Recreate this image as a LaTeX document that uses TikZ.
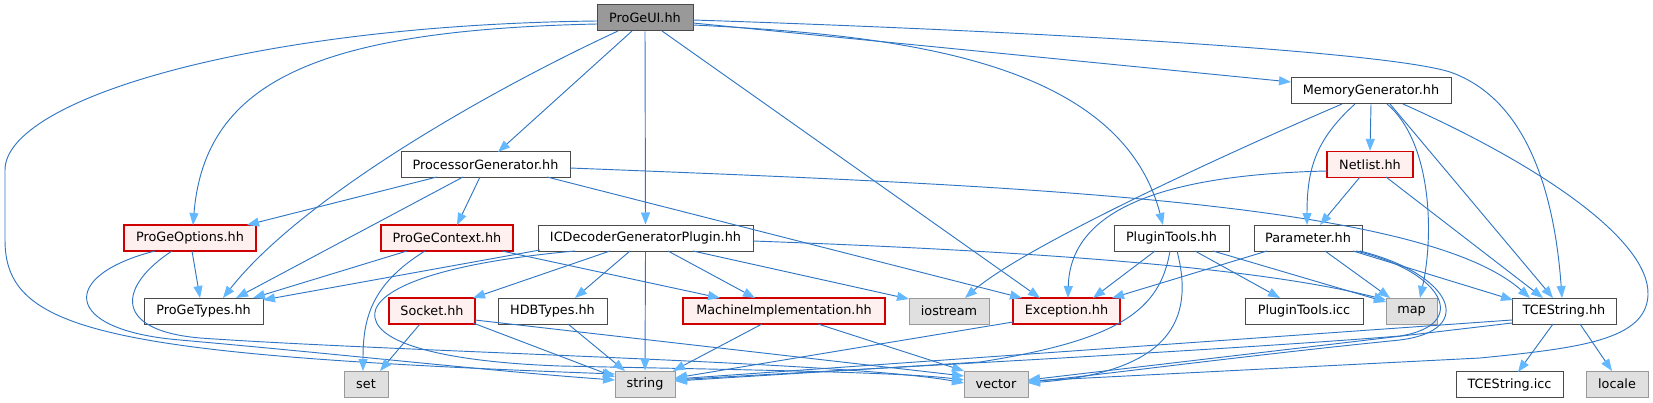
\documentclass[tikz,border=0pt]{standalone}
\usepackage{fontspec}
\setmainfont{DejaVu Sans}
\usetikzlibrary{arrows.meta,calc}
\definecolor{edgec}{RGB}{48,118,196}
\definecolor{tipc}{HTML}{63B8FF}
\definecolor{redfill}{HTML}{FFF0F0}
\definecolor{redb}{HTML}{D00000}
\definecolor{grayfill}{HTML}{E0E0E0}
\definecolor{sysb}{HTML}{999999}
\definecolor{nodeb}{HTML}{4A4A4A}
\definecolor{uifill}{HTML}{999999}
\definecolor{uib}{HTML}{4A4A4A}
\begin{document}
\begin{tikzpicture}[x=0.75pt,y=-0.75pt,
  box/.style={draw=nodeb, fill=white, line width=0.75pt, minimum height=26*0.75pt, inner sep=0pt, font=\fontsize{9.6}{11}\selectfont},
  w/.style={minimum width=#1*0.75pt},
  trunc/.style={box, draw=redb, fill=redfill, line width=1pt},
  sys/.style={box, draw=sysb, fill=grayfill},
  e/.style={draw=edgec, line width=0.7pt, -{Triangle[length=9pt,width=6.75pt,color=tipc]}}]
\useasboundingbox (0,0) rectangle (1653,403);
% nodes
\node[box,w=96,fill=uifill,draw=uib] (ui) at (645,18) {ProGeUI.hh};
\node[box,w=169] (pg) at (485.5,164.5) {ProcessorGenerator.hh};
\node[box,w=160] (mg) at (1371,91) {MemoryGenerator.hh};
\node[trunc,w=86] (nl) at (1370,164.5) {Netlist.hh};
\node[trunc,w=132] (po) at (190,238) {ProGeOptions.hh};
\node[trunc,w=132] (pc) at (447,238) {ProGeContext.hh};
\node[box,w=215] (icd) at (645.5,238) {ICDecoderGeneratorPlugin.hh};
\node[box,w=115] (pth) at (1171.5,238) {PluginTools.hh};
\node[box,w=108] (par) at (1308,238) {Parameter.hh};
\node[box,w=119] (pt) at (203.5,311) {ProGeTypes.hh};
\node[trunc,w=86] (sock) at (432,311) {Socket.hh};
\node[box,w=109] (hdb) at (552.5,311) {HDBTypes.hh};
\node[trunc,w=202] (mi) at (784,311) {MachineImplementation.hh};
\node[sys,w=80] (ios) at (949,311) {iostream};
\node[trunc,w=107] (exc) at (1066.5,311) {Exception.hh};
\node[box,w=118] (pticc) at (1304,311) {PluginTools.icc};
\node[sys,w=51] (map) at (1411.5,311) {map};
\node[box,w=104] (tce) at (1564,311) {TCEString.hh};
\node[sys,w=44] (set) at (366,384.5) {set};
\node[sys,w=60] (str) at (645,384) {string};
\node[sys,w=64] (vec) at (996,384) {vector};
\node[box,w=107] (tceicc) at (1509.5,384.5) {TCEString.icc};
\node[sys,w=62] (loc) at (1617,384) {locale};
% ProGeUI
\draw[e] ($(ui)+(-13,13)$) -- ($(pg)+(12.5,-12.5)$);
\draw[e] ($(ui)+(-48,6)$) .. controls (320,30) and (205,80) .. ($(po)+(3,-13)$);
\draw[e] ($(ui)+(-48,3)$) .. controls (250,25) and (5,100) .. (5,170) -- (5,240) .. controls (5,330) and (100,355) .. ($(str)+(-30,-10)$);
\draw[e] ($(ui)+(-27,13)$) .. controls (480,95) and (300,200) .. ($(pt)+(19.5,-13)$);
\draw[e] (ui.south) -- (icd.north);
\draw[e] ($(ui)+(17,13)$) -- ($(exc)+(-26.5,-13)$);
\draw[e] ($(ui)+(48,7)$) .. controls (900,35) and (1120,60) .. ($(pth)+(-8.5,-13)$);
\draw[e] ($(ui)+(48,5)$) -- ($(mg)+(-80,-9)$);
\draw[e] ($(ui)+(48,2)$) .. controls (1000,30) and (1380,50) .. (1450,72) .. controls (1530,100) and (1555,200) .. ($(tce)+(-2,-13)$);
% ProcessorGenerator
\draw[e] ($(pg)+(-48.5,12.5)$) -- ($(po)+(57,-13)$);
\draw[e] ($(pg)+(-22.5,12.5)$) -- ($(pt)+(32.5,-13)$);
\draw[e] ($(pg)+(-5.5,12.5)$) -- ($(pc)+(10,-13)$);
\draw[e] ($(pg)+(61.5,12.5)$) -- ($(exc)+(-44.5,-13)$);
\draw[e] ($(pg)+(84.5,3.5)$) .. controls (1000,185) and (1420,200) .. ($(tce)+(-34,-13)$);
% MemoryGenerator
\draw[e] (mg.south) -- (nl.north);
\draw[e] ($(mg)+(-16,13)$) .. controls (1315,140) and (1307,170) .. ($(par)+(-1,-13)$);
\draw[e] ($(mg)+(-29,13)$) .. controls (1200,165) and (1020,250) .. ($(ios)+(16,-13)$);
\draw[e] ($(mg)+(16,13)$) .. controls (1430,140) and (1435,230) .. ($(map)+(8.5,-13)$);
\draw[e] ($(mg)+(19,13)$) -- ($(tce)+(-11,-13)$);
\draw[e] ($(mg)+(32,13)$) .. controls (1540,165) and (1650,240) .. (1648,295) .. controls (1646,340) and (1580,348) .. (1480,358) -- ($(vec)+(32,-3)$);
% Netlist
\draw[e] ($(nl)+(-10,12.5)$) -- ($(par)+(12,-13)$);
\draw[e] ($(nl)+(16,12.5)$) -- ($(tce)+(-21,-13)$);
\draw[e] ($(nl)+(-43,6.5)$) .. controls (1150,175) and (1070,215) .. ($(exc)+(1.5,-13)$);
% ProGeOptions
\draw[e] ($(po)+(2,13)$) -- ($(pt)+(-3.5,-13)$);
\draw[e] ($(po)+(-35,13)$) .. controls (60,275) and (60,330) .. (180,340) .. controls (350,355) and (500,372) .. ($(str)+(-30,-4)$);
\draw[e] ($(po)+(-18,13)$) .. controls (120,285) and (110,330) .. (200,338) .. controls (400,352) and (850,362) .. ($(vec)+(-32,-1)$);
% ProGeContext
\draw[e] ($(pc)+(-40,13)$) -- ($(pt)+(49.5,-13)$);
\draw[e] ($(pc)+(55,13)$) -- ($(mi)+(-64,-13)$);
\draw[e] ($(pc)+(-22,13)$) .. controls (370,285) and (363,320) .. ($(set)+(-3,-13.5)$);
% ICDecoderGeneratorPlugin
\draw[e] ($(icd)+(-105.5,12)$) -- ($(pt)+(59.5,-11)$);
\draw[e] ($(icd)+(-70.5,13)$) .. controls (420,265) and (370,295) .. (375,318) .. controls (380,345) and (450,362) .. (560,366) .. controls (750,370) and (900,372) .. ($(vec)+(-32,-4)$);
\draw[e] ($(icd)+(-35.5,13)$) -- ($(sock)+(41,-13)$);
\draw[e] ($(icd)+(-15.5,13)$) -- ($(hdb)+(22.5,-13)$);
\draw[e] (icd.south) -- (str.north);
\draw[e] ($(icd)+(22.5,13)$) -- ($(mi)+(-29,-13)$);
\draw[e] ($(icd)+(47.5,13)$) -- ($(ios)+(-40,-12)$);
\draw[e] ($(icd)+(107.5,3)$) .. controls (1000,250) and (1250,265) .. ($(map)+(-25.5,-11)$);
% Socket
\draw[e] ($(sock)+(-12,13)$) -- ($(set)+(14,-13.5)$);
\draw[e] ($(sock)+(41,12)$) -- ($(str)+(-30,-7)$);
\draw[e] ($(sock)+(43,9)$) -- ($(vec)+(-32,-8)$);
% HDBTypes
\draw[e] ($(hdb)+(15.5,13)$) -- ($(str)+(-20,-13)$);
% MachineImplementation
\draw[e] ($(mi)+(-22,13)$) -- ($(str)+(28,-13)$);
\draw[e] ($(mi)+(34,13)$) -- ($(vec)+(-32,-13)$);
% Exception
\draw[e] ($(exc)+(-53.5,11)$) -- ($(str)+(30,-6)$);
% PluginTools.hh
\draw[e] ($(pth)+(-16.5,13)$) -- ($(exc)+(26.5,-13)$);
\draw[e] ($(pth)+(23.5,13)$) -- ($(pticc)+(-24,-13)$);
\draw[e] ($(pth)+(41.5,13)$) -- ($(map)+(-25.5,-9)$);
\draw[e] ($(pth)+(-1.5,13)$) .. controls (1160,310) and (1120,340) .. (980,362) -- ($(str)+(30,-3)$);
\draw[e] ($(pth)+(5.5,13)$) .. controls (1195,320) and (1170,372) .. ($(vec)+(32,-1)$);
% Parameter
\draw[e] ($(par)+(-41,13)$) -- ($(exc)+(45.5,-13)$);
\draw[e] ($(par)+(17,13)$) -- ($(map)+(-21.5,-13)$);
\draw[e] ($(par)+(45,13)$) -- ($(tce)+(-51,-11)$);
\draw[e] ($(par)+(48,13)$) .. controls (1445,272) and (1470,325) .. (1400,336) .. controls (1200,352) and (800,372) .. ($(str)+(30,-4)$);
\draw[e] ($(par)+(52,13)$) .. controls (1452,274) and (1478,330) .. (1400,340) .. controls (1250,355) and (1100,375) .. ($(vec)+(32,-2)$);
% TCEString.hh
\draw[e] ($(tce)+(-11,13)$) -- ($(tceicc)+(8.5,-12.5)$);
\draw[e] ($(tce)+(16,13)$) -- ($(loc)+(-5,-13)$);
\draw[e] ($(tce)+(-52,9)$) -- ($(str)+(30,-5)$);
\draw[e] ($(tce)+(-52,12)$) -- ($(vec)+(32,-4)$);
\end{tikzpicture}
\end{document}
